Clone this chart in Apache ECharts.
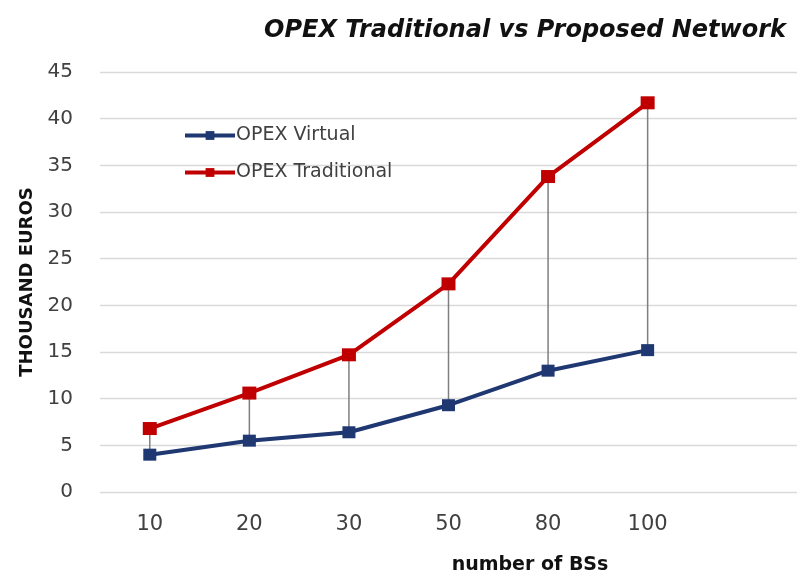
<!DOCTYPE html>
<html>
<head>
<meta charset="utf-8">
<script src="https://cdn.jsdelivr.net/npm/echarts@6/dist/echarts.min.js"></script>
<style>
  html, body { margin: 0; padding: 0; background: #ffffff; }
  #chart { width: 797px; height: 575px; }
</style>
</head>
<body>
<div id="chart"></div>
<script>
// Number of base stations (last slot left empty as right-hand padding)
const categories = ['10', '20', '30', '50', '80', '100', ''];
// Operating expenses, thousand euros
const opexVirtual = [4.0, 5.5, 6.4, 9.3, 13.0, 15.2];
const opexTraditional = [6.8, 10.6, 14.7, 22.3, 33.8, 41.7];
const yTicks = { min: 0, max: 45, step: 5 };

const virtualColor = '#1f3871';
const traditionalColor = '#c00000';
const FONT = 'DejaVu Sans';

const chart = echarts.init(document.getElementById('chart'));

// vertical connector between the two series at each category
const dropData = opexVirtual.map((v, i) => [i, v, opexTraditional[i]]);

chart.setOption({
  animation: false,
  backgroundColor: '#ffffff',
  title: [
    {
      text: 'OPEX Traditional vs Proposed Network',
      right: 6,
      top: 14,
      textStyle: {
        fontFamily: FONT,
        fontStyle: 'italic',
        fontWeight: 'bold',
        fontSize: 24,
        color: '#111111'
      }
    },
    {
      text: 'number of BSs',
      left: 525,
      textAlign: 'center',
      top: 551,
      textStyle: {
        fontFamily: FONT,
        fontWeight: 'bold',
        fontSize: 19,
        color: '#111111'
      }
    }
  ],
  legend: {
    orient: 'vertical',
    left: 178,
    top: 121,
    itemGap: 18,
    itemWidth: 50,
    itemHeight: 11,
    lineStyle: { width: 4 },
    textStyle: { fontFamily: FONT, fontSize: 19, color: '#404040', padding: [0, 0, 0, -4] },
    data: ['OPEX Virtual', 'OPEX Traditional']
  },
  grid: { left: 100, right: -3, top: 72, bottom: 83, containLabel: false },
  xAxis: {
    type: 'category',
    data: categories,
    boundaryGap: true,
    axisLine: { show: false },
    axisTick: { show: false },
    axisLabel: {
      margin: 22,
      fontFamily: FONT,
      fontSize: 21,
      color: '#404040'
    }
  },
  yAxis: {
    type: 'value',
    min: yTicks.min,
    max: yTicks.max,
    interval: yTicks.step,
    name: 'THOUSAND EUROS',
    nameLocation: 'middle',
    nameGap: 64,
    nameTextStyle: {
      fontFamily: FONT,
      fontWeight: 'bold',
      fontSize: 18,
      color: '#111111'
    },
    axisLine: { show: false },
    axisTick: { show: false },
    splitLine: { lineStyle: { color: '#d9d9d9', width: 1.3 } },
    axisLabel: {
      margin: 27,
      fontFamily: FONT,
      fontSize: 20,
      color: '#404040'
    }
  },
  series: [
    {
      type: 'custom',
      name: 'drop',
      z: 1,
      silent: true,
      data: dropData,
      renderItem: function (params, api) {
        const lo = api.coord([api.value(0), api.value(1)]);
        const hi = api.coord([api.value(0), api.value(2)]);
        return {
          type: 'line',
          shape: { x1: lo[0], y1: lo[1], x2: hi[0], y2: hi[1] },
          style: { stroke: '#7f7f7f', lineWidth: 1.5 }
        };
      }
    },
    {
      name: 'OPEX Virtual',
      type: 'line',
      z: 3,
      data: opexVirtual,
      symbol: 'rect',
      symbolSize: [13, 12],
      itemStyle: { color: virtualColor },
      lineStyle: { color: virtualColor, width: 4 }
    },
    {
      name: 'OPEX Traditional',
      type: 'line',
      z: 3,
      data: opexTraditional,
      symbol: 'rect',
      symbolSize: [14, 13],
      itemStyle: { color: traditionalColor },
      lineStyle: { color: traditionalColor, width: 4 }
    }
  ]
});
</script>
</body>
</html>
